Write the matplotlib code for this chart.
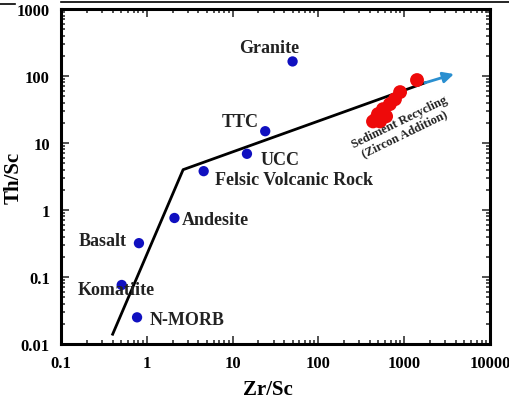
import matplotlib
matplotlib.use("Agg")
import matplotlib.pyplot as plt
from matplotlib.lines import Line2D

plt.rcParams['font.family'] = ['Liberation Serif', 'DejaVu Serif']
plt.rcParams['font.weight'] = 'bold'

# reference rock compositions (Zr/Sc, Th/Sc)
rock_names = ['Granite', 'TTC', 'UCC', 'Felsic Volcanic Rock', 'Andesite',
              'Basalt', 'Komatiite', 'N-MORB']
rock_zr_sc = [50, 24, 14.7, 4.6, 2.1, 0.81, 0.51, 0.77]
rock_th_sc = [165, 15, 6.9, 3.8, 0.76, 0.32, 0.076, 0.025]

# samples
sample_zr_sc = [1410, 895, 780, 680, 566, 495, 433, 522, 615, 470, 560]
sample_th_sc = [87, 57.5, 45, 38, 32, 27, 21, 21, 25, 23, 28]

# compositional trend
trend_x = [0.40, 2.65, 1740]
trend_y = [0.014, 4.0, 79]
arrow_tip = (3800, 107)

# label anchor points and alignment
label_pos = {
    'Granite': (26.5, 270, 'center'),
    'TTC': (12.2, 21.3, 'center'),
    'UCC': (21, 5.6, 'left'),
    'Felsic Volcanic Rock': (6.2, 2.9, 'left'),
    'Andesite': (2.57, 0.71, 'left'),
    'Basalt': (0.59, 0.355, 'right'),
    'Komatiite': (0.158, 0.064, 'left'),
    'N-MORB': (1.09, 0.0236, 'left'),
}

fig = plt.figure(figsize=(5.10, 4.02), dpi=100)
ax = fig.add_axes([0.1196, 0.1418, 0.8412, 0.8333])
ax.set_xscale('log')
ax.set_yscale('log')
ax.set_xlim(0.1, 10000)
ax.set_ylim(0.01, 1000)

ax.plot(trend_x, trend_y, color='black', lw=2, zorder=2)
ax.annotate('', xy=arrow_tip, xytext=(trend_x[-1], trend_y[-1]),
            arrowprops=dict(arrowstyle='-|>', color='#2a8fd0', lw=2,
                            mutation_scale=16, shrinkA=0, shrinkB=0), zorder=3)

ax.scatter(rock_zr_sc, rock_th_sc, s=55, color='#1010c0', edgecolor='none', zorder=4)
ax.scatter(sample_zr_sc, sample_th_sc, s=100, color='#ee0a0a', edgecolor='none', zorder=4)

for name in rock_names:
    x, y, ha = label_pos[name]
    ax.text(x, y, name, ha=ha, va='center', fontsize=13, fontweight='bold',
            color='#222222', zorder=5)

ax.text(940, 17, 'Sediment Recycling\n(Zircon Addition)', rotation=26,
        ha='center', va='center', fontsize=9, fontweight='bold',
        color='#222222', linespacing=1.05, zorder=5)

ax.set_xticks([0.1, 1, 10, 100, 1000, 10000])
ax.set_xticklabels(['0.1', '1', '10', '100', '1000', '10000'])
ax.set_yticks([0.01, 0.1, 1, 10, 100, 1000])
ax.set_yticklabels(['0.01', '0.1', '1', '10', '100', '1000'])
ax.tick_params(which='both', direction='in', top=True, right=True,
               labelsize=12, width=1.2, color='#333333', pad=8)
ax.tick_params(which='major', length=6)
ax.tick_params(which='minor', length=3)
for sp in ax.spines.values():
    sp.set_linewidth(2.2)

ax.set_xlabel('Zr/Sc', fontsize=15, fontweight='bold')
ax.set_ylabel('Th/Sc', fontsize=15, fontweight='bold')
ax.xaxis.set_label_coords(0.4825, -0.105)
ax.yaxis.set_label_coords(-0.11, 0.5)
ax.yaxis.label.set_va('center')

fig.add_artist(Line2D([0.12, 1.0], [0.993, 0.993], color='black', lw=1.2))
fig.add_artist(Line2D([0.0, 0.03], [0.988, 0.988], color='black', lw=1.2))

fig.savefig('out.png', dpi=100)
